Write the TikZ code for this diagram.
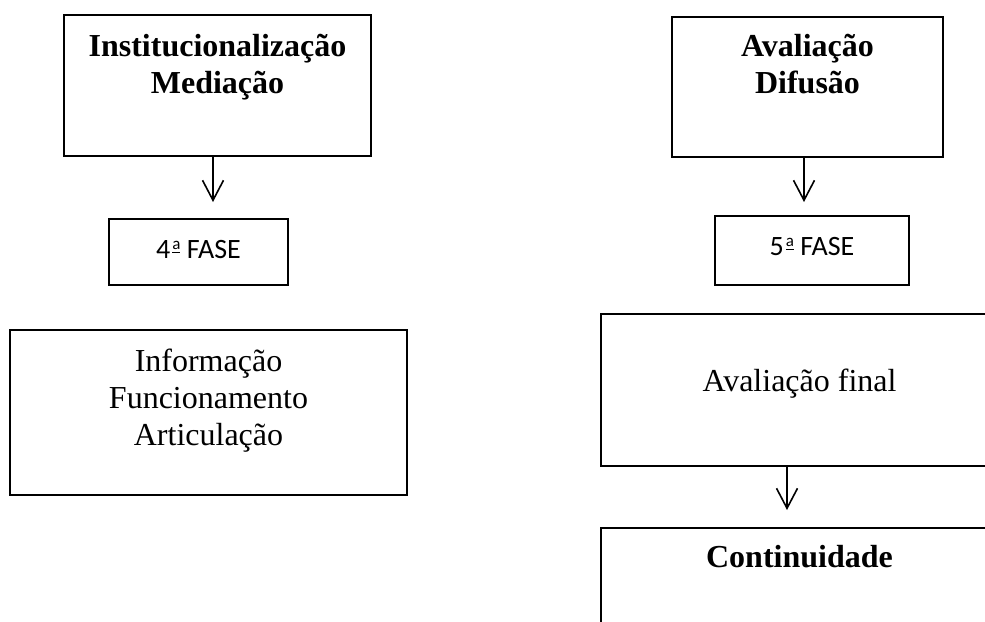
\documentclass[tikz,border=0pt]{standalone}
\usepackage{fontspec}
\setmainfont{Liberation Serif}
\newfontfamily\calibri{Carlito}
\usetikzlibrary{positioning,arrows.meta}
\newcommand{\boxline}{1pt}
\newcommand{\arrline}{0.8pt}
\newcommand{\ordfem}{\kern1pt\raisebox{0.32em}{\fontsize{8.5}{8.5}\selectfont\underline{a}}}
\tikzset{
  box/.style={draw, line width=\boxline, inner sep=0pt},
  txt/.style={inner sep=0pt, align=center, font=\fontsize{16}{18.5}\selectfont},
  fasetxt/.style={inner sep=0pt, font=\calibri\fontsize{14}{16}\selectfont},
  arr/.style={line width=\arrline, -{Straight Barb[length=10pt,width=10.5pt]}}
}

\begin{document}
\begin{tikzpicture}[x=0.5pt, y=-0.5pt]
\useasboundingbox (0,0) rectangle (985,621);
\clip (0,0) rectangle (985,621);
%left column
\node[box, minimum width=153.5pt, minimum height=70.5pt] (inst) at (217.5, 85.5) {};
\node[txt, below=10pt of inst.north] (insttxt) {\bfseries Institucionalização\\\bfseries Mediação};
\node[box, minimum width=89.5pt, minimum height=33pt] (fase4) at (198.5, 252) {};
\node[fasetxt, below=11pt of fase4.north] (fase4txt) {4\ordfem{} FASE};
\node[box, minimum width=198.5pt, minimum height=82.5pt] (info) at (208.5, 412.5) {};
\node[txt, below=10pt of info.north] (infotxt) {Informação\\Funcionamento\\Articulação};
%right column
\node[box, minimum width=135.5pt, minimum height=70pt] (dif) at (807.5, 87) {};
\node[txt, below=9pt of dif.north] (diftxt) {\bfseries Avaliação\\\bfseries Difusão};
\node[box, minimum width=97pt, minimum height=34.5pt] (fase5) at (812, 250.5) {};
\node[fasetxt, below=11pt of fase5.north] (fase5txt) {5\ordfem{} FASE};
\node[box, minimum width=198.5pt, minimum height=76pt] (final) at (799.5, 390) {};
\node[txt, below=28pt of final.north] (finaltxt) {Avaliação final};
\node[box, minimum width=198.5pt, minimum height=75pt] (cont) at (799.5, 603) {};
\node[txt, below=9pt of cont.north] (conttxt) {\bfseries Continuidade};
%arrows
\coordinate (tip4) at (213, 202);
\coordinate (tip5) at (804, 202);
\coordinate (tipc) at (787, 510);
\draw[arr] (inst.south -| tip4) -- (tip4);
\draw[arr] (dif.south -| tip5) -- (tip5);
\draw[arr] (final.south -| tipc) -- (tipc);
\end{tikzpicture}
\end{document}
